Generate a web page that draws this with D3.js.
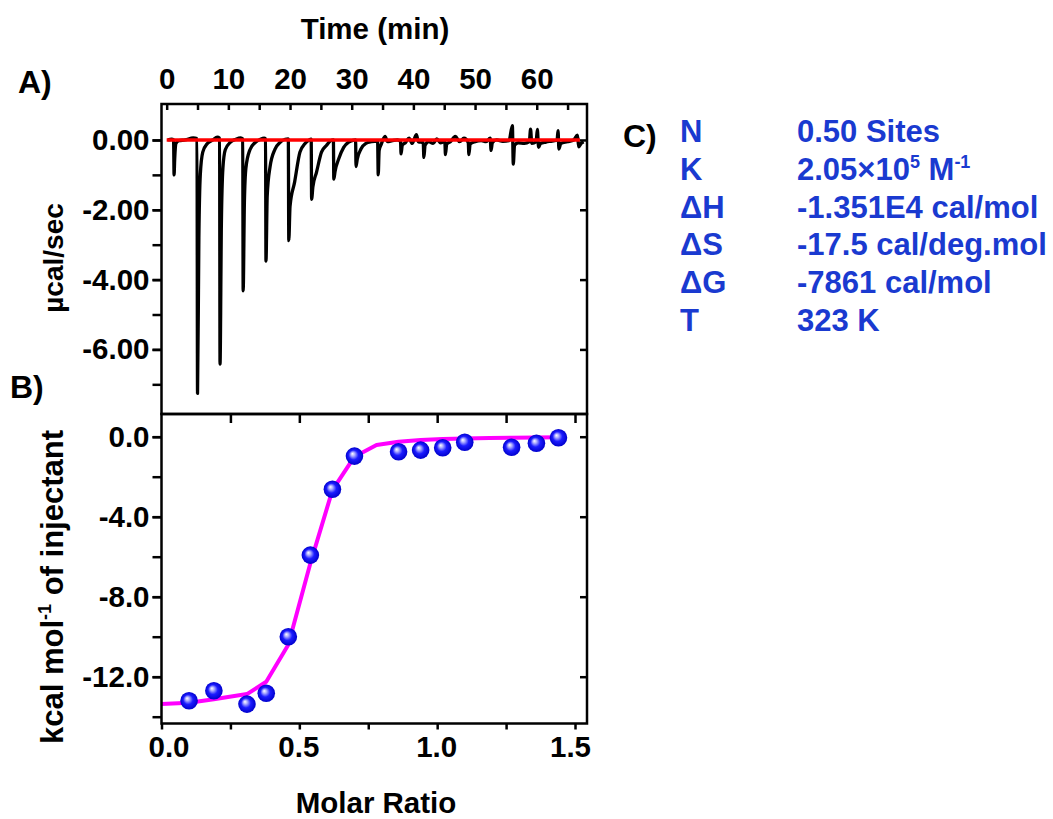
<!DOCTYPE html>
<html><head><meta charset="utf-8">
<script src="https://cdn.jsdelivr.net/npm/d3@7"></script>
<style>
body{margin:0;background:#fff}
svg{display:block}
text{font-family:"Liberation Sans",Arial,sans-serif;font-weight:bold}
</style>
</head><body>
<svg id="c" width="1053" height="819"></svg>
<script>
// ---------- DATA ----------
// Raw ITC thermogram: [time (min), power (µcal/sec)]
const rawTrace = [
  [0.2,0.0],[0.8,0.02],[1.12,0.0],[1.2,-1.0],[1.3,-0.55],[1.5,-0.1],[2.0,-0.02],[3.0,0.0],[4.3,0.06],[4.92,0.04],
  [5.0,-7.26],[5.22,-2.8],[5.45,-1.0],[5.85,-0.35],[6.6,-0.1],[7.5,0.0],[8.2,0.08],[8.58,0.05],
  [8.65,-6.42],[8.87,-2.4],[9.12,-0.8],[9.5,-0.28],[10.3,-0.07],[11.2,0.02],[12.0,0.06],[12.33,0.03],
  [12.4,-4.32],[12.6,-1.8],[12.85,-0.8],[13.5,-0.28],[14.3,-0.08],[15.2,0.02],[15.8,0.05],[16.03,0.03],
  [16.1,-3.47],[16.3,-1.6],[16.75,-0.78],[17.55,-0.27],[18.4,-0.07],[19.2,0.02],[19.72,0.03],
  [19.8,-2.88],[20.0,-1.9],[20.75,-1.2],[21.6,-0.35],[22.4,-0.11],[23.1,0.0],[23.43,0.02],
  [23.5,-1.70],[23.7,-1.35],[24.3,-0.92],[25.1,-0.35],[25.9,-0.16],[26.6,-0.02],[27.03,0.0],
  [27.1,-1.12],[27.3,-0.9],[27.9,-0.54],[28.7,-0.21],[29.5,-0.06],[30.2,-0.01],[30.63,0.0],
  [30.7,-0.76],[30.9,-0.55],[31.5,-0.26],[32.3,-0.1],[33.2,-0.05],[34.2,-0.03],
  [34.3,-1.0],[34.45,-0.3],[34.8,-0.12],[35.4,0.1],[35.8,-0.05],[36.6,-0.02],[37.4,0.0],[37.92,-0.05],
  [38.0,-0.4],[38.2,-0.15],[38.7,-0.08],[39.3,0.05],[39.8,-0.1],[40.5,0.15],[40.8,-0.05],[41.6,-0.08],
  [41.7,-0.5],[41.9,-0.15],[42.5,-0.05],[43.2,-0.1],[43.8,0.03],[44.4,-0.08],[45.1,-0.05],
  [45.2,-0.42],[45.4,-0.12],[46.0,-0.05],[46.8,0.1],[47.5,-0.05],[48.2,0.05],[48.9,-0.08],
  [49.0,-0.42],[49.2,-0.12],[50.0,-0.05],[51.0,-0.02],[51.8,-0.05],[52.45,0.05],
  [52.6,-0.3],[52.8,-0.08],[53.5,0.0],[54.5,-0.04],[55.5,-0.02],[56.05,0.41],
  [56.2,-0.69],[56.4,-0.15],[57.0,-0.08],[58.0,-0.1],[58.8,-0.05],[59.0,0.31],[59.2,-0.1],[59.9,-0.05],
  [60.1,0.3],[60.3,-0.21],[60.6,-0.1],[61.5,-0.06],[62.5,-0.03],[63.3,0.0],[63.45,0.27],
  [63.6,-0.26],[63.9,-0.1],[65.0,-0.05],[66.0,0.0],[66.6,0.14],[66.8,-0.2],[67.2,-0.1],[67.6,-0.05]
];
// Baseline (red)
const baselineTime = [0.0, 67.0];
const baselinePower = [0.0, 0.0];

// Integrated heats (blue spheres)
const molarRatio = [0.10,0.19,0.31,0.38,0.46,0.54,0.62,0.70,0.86,0.94,1.02,1.10,1.27,1.36,1.44];
const heatPerMol = [-13.2,-12.7,-13.37,-12.83,-10.0,-5.92,-2.63,-0.97,-0.75,-0.67,-0.55,-0.28,-0.53,-0.33,-0.05];

// Fit (magenta)
const fitRatio = [0.0,0.10,0.19,0.31,0.38,0.46,0.54,0.62,0.70,0.78,0.86,0.94,1.02,1.10,1.19,1.27,1.36,1.44];
const fitHeat  = [-13.37,-13.3,-13.13,-12.87,-12.25,-10.4,-6.33,-2.67,-1.0,-0.42,-0.25,-0.17,-0.12,-0.09,-0.07,-0.05,-0.04,-0.03];

// Tick labels
const timeTicks = [0,10,20,30,40,50,60];
const powerTicks = [0,-2,-4,-6];
const ratioTicks = [0.0,0.5,1.0,1.5];
const heatTicks = [0,-4,-8,-12];

// Fit parameters (panel C)
const paramNames = ["N","K","ΔH","ΔS","ΔG","T"];
const paramValues = ["0.50 Sites","K_SPECIAL","-1.351E4 cal/mol","-17.5 cal/deg.mol","-7861 cal/mol","323 K"];

// ---------- LAYOUT ----------
const L = 161.5, R = 587, T = 104, M = 414, B = 723.5;
const svg = d3.select("#c");
const tickFont = 29.5, titleFont = 29.5;
const blueTxt = "#1a3ad0";
const hy = f => d => f(d).replace("\u2212","-");

const xTime = d3.scaleLinear().domain([-0.84, 68.15]).range([L, R]);
const yPow = d3.scaleLinear().domain([-7.85, 1.03]).range([M, T]);
const xRat = d3.scaleLinear().domain([0, 1.5435]).range([L, R]);
const yHeat = d3.scaleLinear().domain([-14.34, 1.135]).range([B, M]);

// defs: sphere gradient
const defs = svg.append("defs");
const grad = defs.append("radialGradient").attr("id","sph").attr("cx","50%").attr("cy","50%").attr("r","50%").attr("fx","38%").attr("fy","36%");
grad.append("stop").attr("offset","0%").attr("stop-color","#ffffff");
grad.append("stop").attr("offset","22%").attr("stop-color","#b0b0ff");
grad.append("stop").attr("offset","55%").attr("stop-color","#1c1cff");
grad.append("stop").attr("offset","100%").attr("stop-color","#0000cc");

function styleAxis(g){
  g.selectAll("path.domain").remove();
  g.selectAll("line").attr("stroke","#000").attr("stroke-width",2.5);
  g.selectAll("text").attr("font-size",tickFont).attr("fill","#000");
}

// ---------- PANEL A ----------
const gA = svg.append("g");
gA.append("g").attr("transform",`translate(${L},0)`)
  .call(d3.axisLeft(yPow).tickValues(d3.range(0,-8,-1)).tickSize(9).tickFormat(""))
  .call(styleAxis);
gA.append("g").attr("transform",`translate(${L},0)`)
  .call(d3.axisLeft(yPow).tickValues(powerTicks).tickSize(9).tickPadding(3).tickFormat(hy(d3.format(".2f"))))
  .call(styleAxis);
gA.append("g").attr("transform",`translate(${R},0)`)
  .call(d3.axisLeft(yPow).tickValues(powerTicks).tickSize(7).tickFormat(""))
  .call(styleAxis);
gA.append("g").attr("transform",`translate(0,${T})`)
  .call(d3.axisBottom(xTime).tickValues(d3.range(0,70,5)).tickSize(6).tickFormat(""))
  .call(styleAxis);
gA.append("g").attr("transform",`translate(0,${T})`)
  .call(d3.axisTop(xTime).tickValues(timeTicks).tickSize(0).tickPadding(15).tickFormat(d3.format("d")))
  .call(styleAxis);

const lineA = d3.line().x(d=>xTime(d[0])).y(d=>yPow(d[1])).curve(d3.curveMonotoneX);
gA.append("path").datum(rawTrace).attr("d",lineA).attr("fill","none").attr("stroke","#000").attr("stroke-width",3.3).attr("stroke-linejoin","round");
gA.append("path").datum(baselineTime.map((t,i)=>[t,baselinePower[i]]))
  .attr("d",d3.line().x(d=>xTime(d[0])).y(d=>yPow(d[1])))
  .attr("fill","none").attr("stroke","#ff0000").attr("stroke-width",3.5);

// ---------- PANEL B ----------
const gB = svg.append("g");
gB.append("g").attr("transform",`translate(${L},0)`)
  .call(d3.axisLeft(yHeat).tickValues(d3.range(0,-15,-2)).tickSize(9).tickFormat(""))
  .call(styleAxis);
gB.append("g").attr("transform",`translate(${L},0)`)
  .call(d3.axisLeft(yHeat).tickValues(heatTicks).tickSize(9).tickPadding(3).tickFormat(hy(d3.format(".1f"))))
  .call(styleAxis);
gB.append("g").attr("transform",`translate(${R},0)`)
  .call(d3.axisLeft(yHeat).tickValues(heatTicks).tickSize(7).tickFormat(""))
  .call(styleAxis);
gB.append("g").attr("transform",`translate(0,${M})`)
  .call(d3.axisBottom(xRat).tickValues(d3.range(0.25,1.51,0.25)).tickSize(9).tickFormat(""))
  .call(styleAxis);
gB.append("g").attr("transform",`translate(0,${B})`)
  .call(d3.axisBottom(xRat).tickValues(d3.range(0,1.51,0.25)).tickSize(6).tickFormat(""))
  .call(styleAxis);
const bx = gB.append("g").attr("transform",`translate(0,${B})`)
  .call(d3.axisBottom(xRat).tickValues(ratioTicks).tickSize(0).tickPadding(13).tickFormat(d3.format(".1f")))
  .call(styleAxis);
// label nudges as in the reference (first pushed right off the corner, last pulled left)
bx.selectAll("text").attr("dx",(d,i)=> i===0 ? 7 : (i===ratioTicks.length-1 ? -5 : -1));

gB.append("path").datum(fitRatio.map((r,i)=>[r,fitHeat[i]]))
  .attr("d",d3.line().x(d=>xRat(d[0])).y(d=>yHeat(d[1])))
  .attr("fill","none").attr("stroke","#ff00ff").attr("stroke-width",4).attr("stroke-linejoin","round");
gB.selectAll("circle.pt").data(molarRatio.map((r,i)=>[r,heatPerMol[i]])).join("circle")
  .attr("class","pt").attr("cx",d=>xRat(d[0])).attr("cy",d=>yHeat(d[1])).attr("r",8.8)
  .attr("fill","url(#sph)");

// frames
svg.append("rect").attr("x",L).attr("y",T).attr("width",R-L).attr("height",M-T).attr("fill","none").attr("stroke","#000").attr("stroke-width",2.5);
svg.append("rect").attr("x",L).attr("y",M).attr("width",R-L).attr("height",B-M).attr("fill","none").attr("stroke","#000").attr("stroke-width",2.5);

// titles
svg.append("text").attr("x",375).attr("y",39).attr("text-anchor","middle").attr("font-size",titleFont).text("Time (min)");
svg.append("text").attr("x",376).attr("y",813).attr("text-anchor","middle").attr("font-size",titleFont).text("Molar Ratio");
svg.append("text").attr("transform","translate(63,258) rotate(-90)").attr("text-anchor","middle").attr("font-size",28).text("µcal/sec");
const yl = svg.append("text").attr("transform","translate(63,587) rotate(-90)").attr("text-anchor","middle").attr("font-size",31);
yl.append("tspan").text("kcal mol");
yl.append("tspan").attr("dy",-12).attr("font-size",18).text("-1");
yl.append("tspan").attr("dy",12).text(" of injectant");

svg.append("text").attr("x",18).attr("y",93).attr("font-size",32).text("A)");
svg.append("text").attr("x",10).attr("y",398).attr("font-size",32).text("B)");
svg.append("text").attr("x",623).attr("y",147).attr("font-size",32).text("C)");

// panel C parameters
const rowY0 = 142, rowDy = 37.8;
paramNames.forEach((n,i)=>{
  const y = rowY0 + i*rowDy;
  svg.append("text").attr("x",680).attr("y",y).attr("font-size",31).attr("fill",blueTxt).text(n);
  const t = svg.append("text").attr("x",797).attr("y",y).attr("font-size",31).attr("fill",blueTxt);
  if (paramValues[i] === "K_SPECIAL") {
    t.append("tspan").text("2.05×10");
    t.append("tspan").attr("dy",-12).attr("font-size",18).text("5");
    t.append("tspan").attr("dy",12).text(" M");
    t.append("tspan").attr("dy",-12).attr("font-size",18).text("-1");
  } else {
    t.text(paramValues[i]);
  }
});
</script>
</body></html>
